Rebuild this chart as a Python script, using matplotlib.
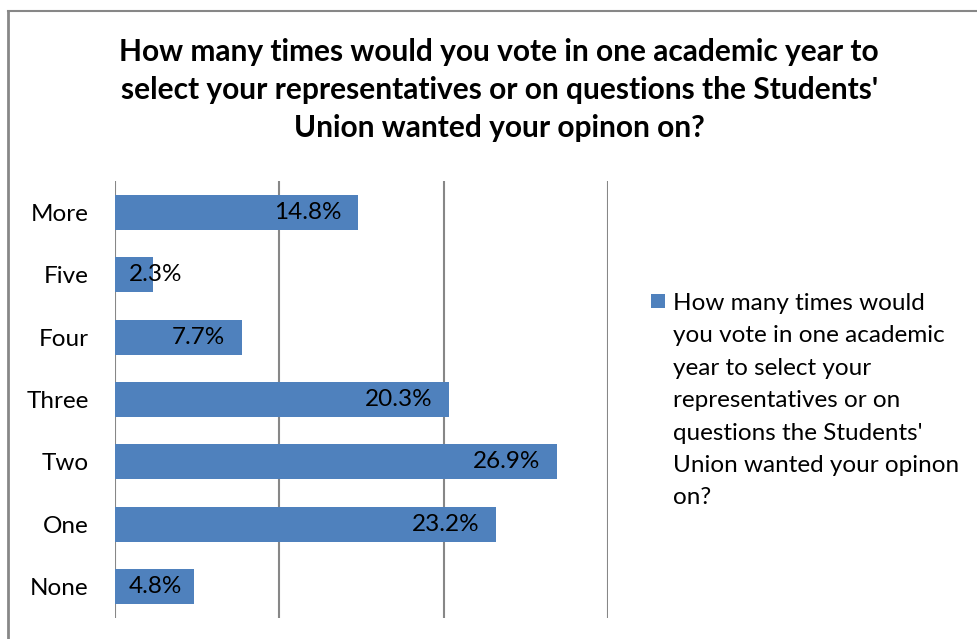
import matplotlib
matplotlib.use("Agg")
import matplotlib.pyplot as plt
from matplotlib.lines import Line2D
from matplotlib.patches import Rectangle

categories = ["More", "Five", "Four", "Three", "Two", "One", "None"]
values = [14.8, 2.3, 7.7, 20.3, 26.9, 23.2, 4.8]
value_labels = ["14.8%", "2.3%", "7.7%", "20.3%", "26.9%", "23.2%", "4.8%"]
x_ticks = [0, 10, 20, 30]
title = ("How many times would you vote in one academic year to\n"
         "select your representatives or on questions the Students'\n"
         "Union wanted your opinon on?")
legend_label = ("How many times would\nyou vote in one academic\n"
                "year to select your\nrepresentatives or on\n"
                "questions the Students'\nUnion wanted your opinon\non?")

plt.rcParams["font.family"] = ["Lato", "DejaVu Sans"]

W, H = 977, 639
fig = plt.figure(figsize=(W / 100, H / 100), dpi=100)
fig.patch.set_facecolor("white")

bar_color = "#4F81BD"
grid_color = "#878787"
label_size = 17.5

ax = fig.add_axes([115 / W, 1 - 618 / H, (608 - 115) / W, (618 - 181) / H])
ypos = list(range(len(categories)))
ax.barh(ypos, values, height=0.56, color=bar_color, zorder=2)
ax.set_ylim(len(categories) - 0.5, -0.5)
ax.set_xlim(x_ticks[0], x_ticks[-1])
ax.set_yticks(ypos)
ax.set_yticklabels(categories, fontsize=label_size)
ax.tick_params(axis="y", length=0, pad=19)
ax.set_xticks(x_ticks)
ax.tick_params(axis="x", length=0, labelbottom=False)
ax.grid(axis="x", color=grid_color, linewidth=1.5, zorder=1)
for s in ax.spines.values():
    s.set_visible(False)

# Data labels sit just inside the bar end, pushed right for short bars
fig.canvas.draw()
renderer = fig.canvas.get_renderer()
inv = ax.transData.inverted()
for y, v, lab in zip(ypos, values, value_labels):
    t = ax.text(v - 1.0, y, lab, ha="right", va="center", fontsize=label_size,
                color="black", zorder=3)
    bb = t.get_window_extent(renderer)
    left = inv.transform((bb.x0, bb.y0))[0]
    if left < 0.85:
        t.set_position((0.85, y))
        t.set_ha("left")

fig.text(0.511, 1 - 90 / H, title, ha="center", va="center", fontsize=21.5,
         fontweight="bold", linespacing=1.42)

# Legend: square key beside a wrapped series name
fig.add_artist(Rectangle((651 / W, 1 - 308 / H), 14 / W, 14 / H,
                         facecolor=bar_color, edgecolor="none",
                         transform=fig.transFigure))
fig.text(673 / W, 1 - 293 / H, legend_label, ha="left", va="top",
         fontsize=label_size, linespacing=1.67)

# Chart frame (top and left edges)
fig.add_artist(Line2D([8 / W, 1], [1 - 11 / H, 1 - 11 / H], color=grid_color,
                      linewidth=1.5, transform=fig.transFigure))
fig.add_artist(Line2D([8 / W, 8 / W], [0, 1 - 11 / H], color=grid_color,
                      linewidth=2, transform=fig.transFigure))

fig.savefig("out.png", dpi=100)
